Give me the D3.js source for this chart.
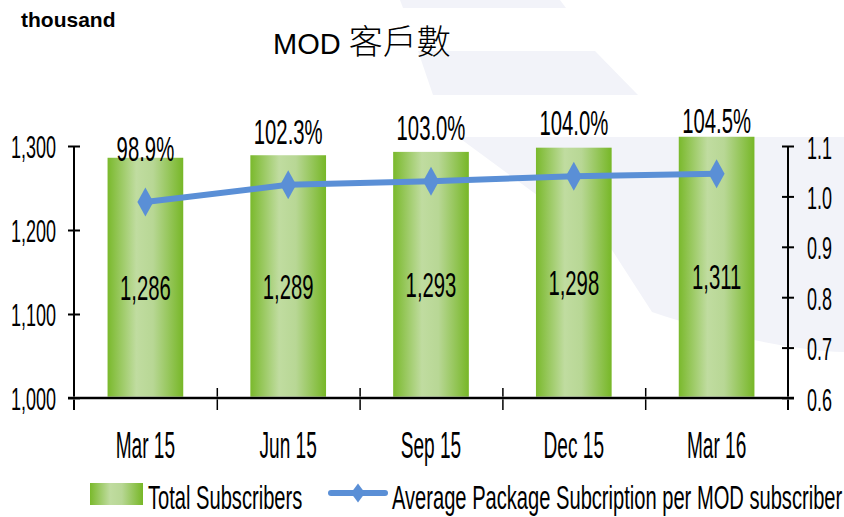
<!DOCTYPE html>
<html>
  <head>
  <meta charset="utf-8">
  <title>MOD 客戶數</title>
  </head>
  <body>
  <style>
    body, html {
      margin: 0;
      padding: 0;
      background: #fff;
    }
    svg text {
      font-family: "Liberation Sans", Arial, sans-serif;
      fill: #000;
    }
  </style>

  <svg id="svg" width="844" height="517"></svg>

  <script src="https://cdn.jsdelivr.net/npm/d3@7"></script>
  <script>
    // chart data
    const categories = ['Mar 15', 'Jun 15', 'Sep 15', 'Dec 15', 'Mar 16']
    const subscribers = [1286, 1289, 1293, 1298, 1311]
    const avgPackage = [0.989, 1.023, 1.030, 1.040, 1.045]
    const pctLabels = ['98.9%', '102.3%', '103.0%', '104.0%', '104.5%']
    const leftTicks = [1000, 1100, 1200, 1300]
    const rightTicks = [0.6, 0.7, 0.8, 0.9, 1.0, 1.1]

    const svg = d3.select('#svg')
    const plotLeft = 74, plotRight = 788, plotTop = 146, plotBottom = 398
    const narrow = 0.58 // condensed look of the original labels

    // faint watermark shapes in the background
    const bg = svg.append('g').attr('fill', '#f2f3f9')
    bg.append('path').attr('d', 'M400,0 L560,0 L566,8 L403,8 Z')
    bg.append('path').attr('d', 'M418,51 L595,51 L638,95 L433,95 Z')
    bg.append('path').attr('d',
      'M458,137 L844,137 L844,352 C790,350 720,335 652,312 L612,250 Z')

    const defs = svg.append('defs')
    const grad = defs.append('linearGradient')
      .attr('id', 'barGrad')
      .attr('x1', '0%').attr('x2', '100%').attr('y1', '0%').attr('y2', '0%')
    grad.append('stop').attr('offset', '0%').attr('stop-color', '#7ab92c')
    grad.append('stop').attr('offset', '38%').attr('stop-color', '#c0dca0')
    grad.append('stop').attr('offset', '60%').attr('stop-color', '#b8d795')
    grad.append('stop').attr('offset', '100%').attr('stop-color', '#77b727')

    const xScale = d3.scaleBand()
      .domain(categories)
      .range([plotLeft, plotRight])
      .paddingInner(0.47)
      .paddingOuter(0.235)
    const edgeScale = d3.scaleLinear() // category boundaries
      .domain([0, categories.length])
      .range([plotLeft, plotRight])
    const yScale = d3.scaleLinear()
      .domain([1000, 1300])
      .range([plotBottom, plotTop])
    const y2Scale = d3.scaleLinear()
      .domain([0.6, 1.1])
      .range([plotBottom, plotTop])

    function squeeze(sel, x, y, sx) {
      sel.attr('transform', `translate(${x},${y}) scale(${sx},1)`)
    }

    // bars
    svg.append('g')
      .selectAll('rect')
      .data(subscribers)
      .join('rect')
      .attr('x', (d, i) => xScale(categories[i]))
      .attr('width', xScale.bandwidth())
      .attr('y', d => yScale(d))
      .attr('height', d => yScale(1000) - yScale(d))
      .attr('fill', 'url(#barGrad)')

    // values inside bars
    svg.append('g')
      .selectAll('text')
      .data(subscribers)
      .join('text')
      .attr('text-anchor', 'middle')
      .style('font-size', '35px')
      .text(d => d3.format(',')(d))
      .each(function (d, i) {
        const cx = xScale(categories[i]) + xScale.bandwidth() / 2
        const cy = (yScale(d) + yScale(1000)) / 2 + 22
        squeeze(d3.select(this), cx, cy, narrow)
      })

    // left axis
    const axisL = d3.axisLeft(yScale)
      .tickValues(leftTicks)
      .tickFormat(d3.format(','))
      .tickSize(6)
      .tickSizeOuter(0)
    svg.append('g')
      .attr('transform', `translate(${plotLeft},0)`)
      .call(axisL)
      .call(g => g.select('.domain').remove())
      .call(g => g.selectAll('.tick line')
        .attr('x1', -6).attr('x2', 6)
        .attr('stroke', '#000').attr('stroke-width', 2))
      .call(g => g.selectAll('.tick text')
        .attr('x', null).attr('dy', null)
        .style('font-size', '31px')
        .attr('fill', '#000')
        .attr('transform', `translate(-18,11) scale(${narrow},1)`))
      .call(g => g.append('line')
        .attr('y1', plotTop).attr('y2', plotBottom + 12)
        .attr('stroke', '#000').attr('stroke-width', 2))

    // right axis
    const axisR = d3.axisRight(y2Scale)
      .tickValues(rightTicks)
      .tickFormat(d3.format('.1f'))
      .tickSize(6)
      .tickSizeOuter(0)
    svg.append('g')
      .attr('transform', `translate(${plotRight},0)`)
      .call(axisR)
      .call(g => g.select('.domain').remove())
      .call(g => g.selectAll('.tick line')
        .attr('x1', -6).attr('x2', 6)
        .attr('stroke', '#000').attr('stroke-width', 2))
      .call(g => g.selectAll('.tick text')
        .attr('x', null).attr('dy', null)
        .style('font-size', '31px')
        .attr('fill', '#000')
        .attr('transform', `translate(19,12) scale(${narrow},1)`))
      .call(g => g.append('line')
        .attr('y1', plotTop).attr('y2', plotBottom + 12)
        .attr('stroke', '#000').attr('stroke-width', 2))

    // bottom axis: boundary ticks and category labels
    svg.append('g')
      .attr('transform', `translate(0,${plotBottom})`)
      .call(d3.axisBottom(edgeScale)
        .tickValues(d3.range(1, categories.length))
        .tickFormat('')
        .tickSize(12)
        .tickSizeOuter(0))
      .call(g => g.select('.domain').remove())
      .call(g => g.selectAll('.tick line')
        .attr('y1', -10).attr('stroke', '#000').attr('stroke-width', 1.5))
      .call(g => g.append('line')
        .attr('x1', plotLeft - 6).attr('x2', plotRight + 6)
        .attr('stroke', '#888').attr('stroke-width', 4).attr('opacity', 0.5))
      .call(g => g.append('line')
        .attr('x1', plotLeft - 6).attr('x2', plotRight + 6)
        .attr('stroke', '#000').attr('stroke-width', 2))

    svg.append('g')
      .attr('transform', `translate(0,${plotBottom})`)
      .call(d3.axisBottom(xScale).tickSize(0).tickSizeOuter(0))
      .call(g => g.select('.domain').remove())
      .call(g => g.selectAll('.tick text')
        .attr('y', null).attr('dy', null)
        .style('font-size', '36px')
        .attr('fill', '#000')
        .attr('transform', `translate(0,60) scale(0.53,1)`))

    // line series
    const linegen = d3.line()
      .x((d, i) => xScale(categories[i]) + xScale.bandwidth() / 2)
      .y(d => y2Scale(d))
    svg.append('path')
      .attr('d', linegen(avgPackage))
      .attr('fill', 'none')
      .attr('stroke', '#5a8fd6')
      .attr('stroke-width', 6)
      .attr('stroke-linejoin', 'round')

    const diamond = (w, h) => `M0,${-h / 2} L${w / 2},0 L0,${h / 2} L${-w / 2},0 Z`
    svg.append('g')
      .selectAll('path')
      .data(avgPackage)
      .join('path')
      .attr('d', diamond(16, 29))
      .attr('fill', '#5a8fd6')
      .attr('transform', (d, i) =>
        `translate(${xScale(categories[i]) + xScale.bandwidth() / 2},${y2Scale(d)})`)

    // percentage labels above the markers
    svg.append('g')
      .selectAll('text')
      .data(avgPackage)
      .join('text')
      .attr('text-anchor', 'middle')
      .style('font-size', '35px')
      .text((d, i) => pctLabels[i])
      .each(function (d, i) {
        const cx = xScale(categories[i]) + xScale.bandwidth() / 2
        squeeze(d3.select(this), cx, y2Scale(d) - 41, narrow)
      })

    // titles
    svg.append('text')
      .attr('x', 21).attr('y', 27)
      .style('font-size', '21px')
      .style('font-weight', 'bold')
      .text('thousand')
    const title = svg.append('text')
      .attr('x', 273).attr('y', 54)
      .style('font-size', '29px')
    title.append('tspan').text('MOD ')
    title.append('tspan')
      .style('font-family', '"Noto Sans CJK TC", "Noto Sans CJK SC", sans-serif')
      .style('font-size', '34px')
      .style('font-weight', '300')
      .text('客戶數')

    // legend
    const legend = svg.append('g')
    legend.append('rect')
      .attr('x', 90).attr('y', 483).attr('width', 53).attr('height', 22)
      .attr('fill', 'url(#barGrad)')
    legend.append('text')
      .style('font-size', '34px')
      .text('Total Subscribers')
      .call(s => squeeze(s, 148, 509, 0.592))
    legend.append('line')
      .attr('x1', 331).attr('x2', 385).attr('y1', 493).attr('y2', 493)
      .attr('stroke', '#5a8fd6').attr('stroke-width', 6)
      .attr('stroke-linecap', 'round')
    legend.append('path')
      .attr('d', diamond(14, 19))
      .attr('fill', '#5a8fd6')
      .attr('transform', 'translate(358,493)')
    legend.append('text')
      .style('font-size', '34px')
      .text('Average Package Subcription per MOD subscriber')
      .call(s => squeeze(s, 392, 509, 0.592))
  </script>
  </body>
</html>
